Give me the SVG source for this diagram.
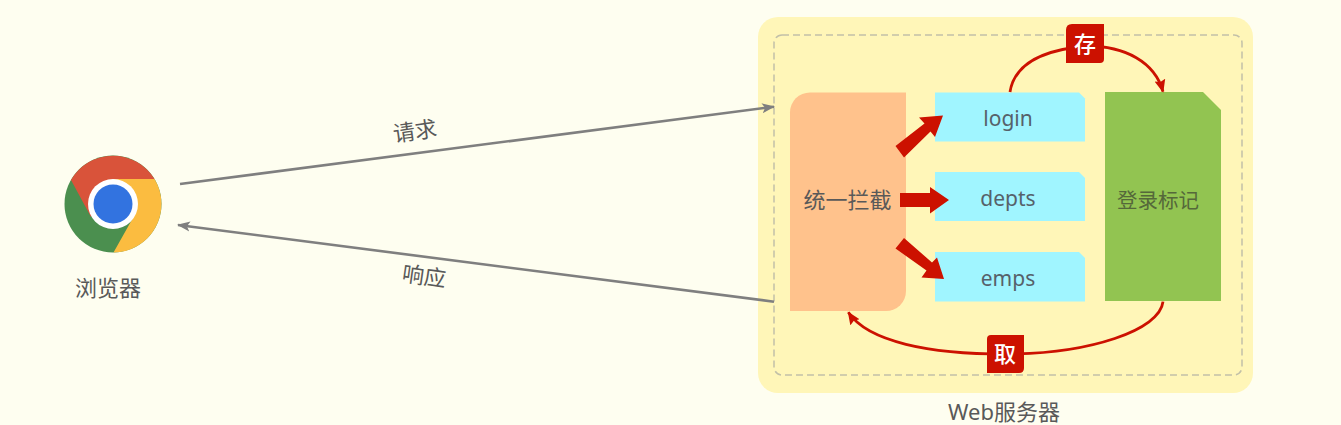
<svg xmlns="http://www.w3.org/2000/svg" width="1341" height="425" viewBox="0 0 1341 425">
<style>
text{font-family:"Noto Sans","Noto Sans CJK SC",sans-serif;fill:#595959;text-anchor:middle}
.l{font-size:22px}
.b{font-size:21px;fill:#56616a}
.badge{fill:#cc1100}
.bt{font-size:22px;font-weight:500;fill:#fff;font-family:"Noto Sans CJK SC",sans-serif}
.gray{stroke:#7f7f7f;stroke-width:2.600;fill:none;marker-end:url(#ga)}
.curve{stroke:#cc1100;stroke-width:2.800;fill:none;marker-end:url(#ra)}
.big{fill:#cc1100}
</style>
<defs>
<marker id="ga" markerWidth="14" markerHeight="12" refX="12" refY="6" orient="auto" markerUnits="userSpaceOnUse"><path d="M0 1L13 6L0 11L3 6Z" fill="#7f7f7f"/></marker>
<marker id="ra" markerWidth="14" markerHeight="12" refX="12" refY="6" orient="auto" markerUnits="userSpaceOnUse"><path d="M0 0.500L13 6L0 11.500L2 6Z" fill="#cc1100"/></marker>
</defs>
<rect width="1341" height="425" fill="#fefef0"/>
<g id="browser">
<circle cx="113" cy="204" r="48.500" fill="#4b8f4f"/>
<path d="M71 180A48.500 48.500 0 0 1 154.500 179L113 179L91 217Z" fill="#d9533a"/>
<path d="M154.500 179A48.500 48.500 0 0 1 113.500 252.500L134 216L113 179Z" fill="#fbbc40"/>
<circle cx="113" cy="204" r="25" fill="#fff"/>
<circle cx="113" cy="204" r="19.500" fill="#3273e0"/>
<text class="l" x="108" y="296">浏览器</text>
</g>
<g id="server">
<rect x="758" y="17" width="495" height="376" rx="20" fill="#fff6b8"/>
<rect x="774" y="35" width="468" height="340" rx="8" fill="none" stroke="#c2c0a8" stroke-width="1.500" stroke-dasharray="7 4"/>
<text class="l" x="1004" y="420">Web服务器</text>
</g>
<g id="interceptor">
<path d="M810 92.500H906V291A20 20 0 0 1 886 311H790V112.500A20 20 0 0 1 810 92.500Z" fill="#ffc28c"/>
<text class="l" x="847.500" y="208">统一拦截</text>
</g>
<g id="login">
<path d="M935 92.500H1079L1085 98.500V141.500H935Z" fill="#a0f5ff"/>
<text class="b" x="1008" y="126">login</text>
</g>
<g id="depts">
<path d="M935 172H1079L1085 178V221H935Z" fill="#a0f5ff"/>
<text class="b" x="1008" y="206">depts</text>
</g>
<g id="emps">
<path d="M935 252H1079L1085 258V301.500H935Z" fill="#a0f5ff"/>
<text class="b" x="1008" y="286">emps</text>
</g>
<g id="token">
<path d="M1105 92H1203L1221 110V301H1105Z" fill="#92c451"/>
<text class="l" x="1158" y="208" style="fill:#55683a;font-size:20.500px">登录标记</text>
</g>
<g id="connectors">
<path class="gray" d="M180 184L774 106.700"/>
<path class="gray" d="M774 301.700L178 225"/>
<path class="big" d="M895.500 146L924.500 123.500L919 117.500L943 115.500L935 137L930.500 131.500L904 157.500Z"/>
<path class="big" d="M900 193H930V187L949 200L930 213.500V207H900Z"/>
<path class="big" d="M904 238L932 262.500L937 257.500L944 279L921.500 277.500L926.500 270.500L895.500 248.500Z"/>
<path class="curve" d="M1010 92C1014 66 1040 50 1087 46C1125 46 1155 62 1163 91.700"/>
<path class="curve" d="M1163 301.700C1160 330 1090 354 1005 354C930 354 868 342 848.300 312.300"/>
<path class="badge" d="M1072 24H1104V59Q1104 63 1100 63H1066V30Q1066 24 1072 24Z"/>
<text class="bt" x="1085" y="52">存</text>
<path class="badge" d="M991 335H1024V368Q1024 373 1019 373H987V339Q987 335 991 335Z"/>
<text class="bt" x="1005" y="362">取</text>
<text class="l" transform="translate(416 139) rotate(-8)">请求</text>
<text class="l" transform="translate(423 284) rotate(8)">响应</text>
</g>
</svg>
